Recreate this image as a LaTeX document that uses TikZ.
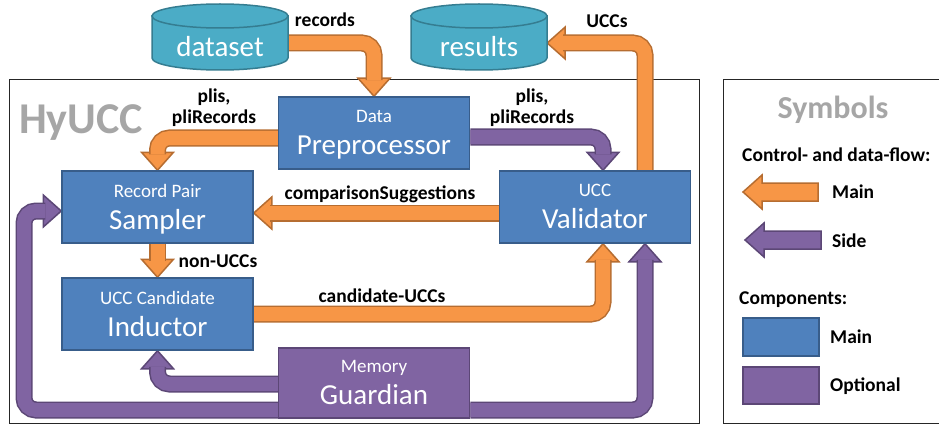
\documentclass[tikz,border=0pt]{standalone}
\usepackage{fontspec}
\setmainfont{Carlito}
\usetikzlibrary{calc}
\definecolor{bfill}{HTML}{4F81BD}
\definecolor{bbord}{HTML}{385D8A}
\definecolor{pfill}{HTML}{8064A2}
\definecolor{pbord}{HTML}{5C4776}
\definecolor{ofill}{HTML}{F79646}
\definecolor{obord}{HTML}{B66D31}
\definecolor{tfill}{HTML}{4BACC6}
\definecolor{tbord}{HTML}{357D91}
\definecolor{gtext}{HTML}{A6A6A6}
\pgfdeclarelayer{back}\pgfdeclarelayer{mid}\pgfsetlayers{back,mid,main}
\newcommand\smf{\fontsize{19}{21}\selectfont}
\newcommand\bgf{\fontsize{29}{32}\selectfont}
\newcommand\ahead[4]{\path[fill=#1,draw=#2,line width=1.5pt,line join=miter,shift={#3},rotate=#4] (0,0) -- (-18,-16) -- (-18,16) -- cycle;}
\newcommand\cyl[1]{\path[fill=tfill,draw=tbord,line width=1.5pt] (#1-68,16) -- (#1-68,58) arc[start angle=180,end angle=360,x radius=68pt,y radius=12pt] -- (#1+68,16) -- cycle;
 \path[fill=tfill,draw=tbord,line width=1.5pt] (#1,16) ellipse[x radius=68pt,y radius=12pt];}
\begin{document}
\begin{tikzpicture}[x=1pt,y=-1pt,
  mainbox/.style={draw=bbord,fill=bfill,line width=1.5pt,minimum width=191pt,minimum height=72pt,text=white,align=center,inner sep=0pt,font=\bgf,text depth=1pt},
  optbox/.style={mainbox,draw=pbord,fill=pfill,minimum height=70pt},
  oshaft/.style={draw=obord,double=ofill,line width=1.5pt,double distance=14pt,rounded corners=12pt},
  pshaft/.style={draw=pbord,double=pfill,line width=1.5pt,double distance=14pt,rounded corners=12pt},
  lbl/.style={font=\fontsize{19.5}{21}\selectfont\bfseries,inner sep=0pt,anchor=base},
  lbl2/.style={font=\fontsize{19.5}{21}\selectfont\bfseries,inner sep=0pt,align=center},
  leg/.style={font=\fontsize{19.5}{21}\selectfont\bfseries,inner sep=0pt,anchor=base west},
  cyltext/.style={text=white,font=\bgf,minimum width=136pt,inner sep=0pt,text height=27pt,text depth=0pt}]
\useasboundingbox (0,0) rectangle (939,425);
% frames
\begin{pgfonlayer}{back}
\draw[black!85,line width=1pt] (9,80) rectangle (699,423);
\draw[black!85,line width=1pt] (945,80) -- (723,80) -- (723,423) -- (945,423);
\end{pgfonlayer}
% cylinders
\cyl{220}
\cyl{479}
\node[cyltext] (dataset) at (220,43) {dataset};
\node[cyltext] (results) at (479,43) {results};
% boxes
\node[mainbox] (pre) at (374,133) {{\smf Data}\\Preprocessor};
\node[mainbox] (samp) at (157.5,207) {{\smf Record Pair}\\Sampler};
\node[mainbox] (ind) at (157.5,314) {{\smf UCC Candidate}\\Inductor};
\node[mainbox] (val) at (595,207) {{\smf UCC}\\Validator};
\node[optbox] (mem) at (374,383) {{\smf Memory}\\Guardian};
% arrows
\begin{pgfonlayer}{mid}
\ahead{ofill}{obord}{(pre.north)}{-90}
\draw[oshaft] (dataset.east) -| ($(pre.north)+(0,-16)$);
\ahead{ofill}{obord}{(samp.north)}{-90}
\draw[oshaft] ($(pre.west)+(0,5)$) -| ($(samp.north)+(0,-16)$);
\ahead{pfill}{pbord}{($(val.north)+(8,0)$)}{-90}
\draw[pshaft] ($(pre.east)+(0,4)$) -| ($(val.north)+(8,-16)$);
\ahead{ofill}{obord}{(results.east)}{180}
\draw[oshaft] ($(val.north)+(50,0)$) |- ($(results.east)+(16,0)$);
\ahead{ofill}{obord}{($(samp.east)+(0,6)$)}{180}
\draw[oshaft] ($(val.west)+(0,6)$) -- ($(samp.east)+(16,6)$);
\ahead{ofill}{obord}{(ind.north)}{-90}
\draw[oshaft] (samp.south) -- ($(ind.north)+(0,-16)$);
\ahead{ofill}{obord}{($(val.south)+(8,0)$)}{90}
\draw[oshaft] (ind.east) -| ($(val.south)+(8,16)$);
\ahead{pfill}{pbord}{(ind.south)}{90}
\draw[pshaft] ($(mem.west)+(0,1)$) -| ($(ind.south)+(0,16)$);
\ahead{pfill}{pbord}{($(samp.west)+(0,4)$)}{0}
\draw[pshaft] ($(mem.west)+(0,27)$) -- (24,410) -- (24,211) -- ($(samp.west)+(-16,4)$);
\ahead{pfill}{pbord}{($(val.south)+(50,0)$)}{90}
\draw[pshaft] ($(mem.east)+(0,27)$) -| ($(val.south)+(50,16)$);
\end{pgfonlayer}
% labels
\node[lbl] (lrec) at (325,27) {records};
\node[lbl2] (lpl1) at (214,108) {plis,\\pliRecords};
\node[lbl2] (lpl2) at (532,108) {plis,\\pliRecords};
\node[lbl] (lucc) at (607,28) {UCCs};
\node[lbl] (lcmp) at (380,199) {comparisonSuggestions};
\node[lbl] (lnon) at (218,267) {non-UCCs};
\node[lbl] (lcand) at (382,302) {candidate-UCCs};
\node[font=\fontsize{44}{46}\selectfont\bfseries,text=gtext,anchor=base west,inner sep=0pt] (hy) at (19,133) {HyUCC};
% legend
\node[font=\fontsize{32}{34}\selectfont\bfseries,text=gtext,anchor=base,inner sep=0pt] (sym) at (833,118) {Symbols};
\node[leg] (lcf) at (742,161) {Control- and data-flow:};
\draw[fill=ofill,draw=obord,line width=1.5pt] (743,192) -- (762,175) -- (762,183) -- (818,183) -- (818,201) -- (762,201) -- (762,209) -- cycle;
\node[leg] (lm1) at (832,198) {Main};
\draw[fill=pfill,draw=pbord,line width=1.5pt] (745,240) -- (764,223) -- (764,231) -- (821,231) -- (821,249) -- (764,249) -- (764,257) -- cycle;
\node[leg] (lside) at (832,247) {Side};
\node[leg] (lcomp) at (739,304) {Components:};
\draw[fill=bfill,draw=bbord,line width=1.5pt] (743,318) rectangle (819,356);
\node[leg] (lm2) at (830,343) {Main};
\draw[fill=pfill,draw=pbord,line width=1.5pt] (743,367) rectangle (819,404);
\node[leg] (lopt) at (830,391) {Optional};
\end{tikzpicture}
\end{document}
